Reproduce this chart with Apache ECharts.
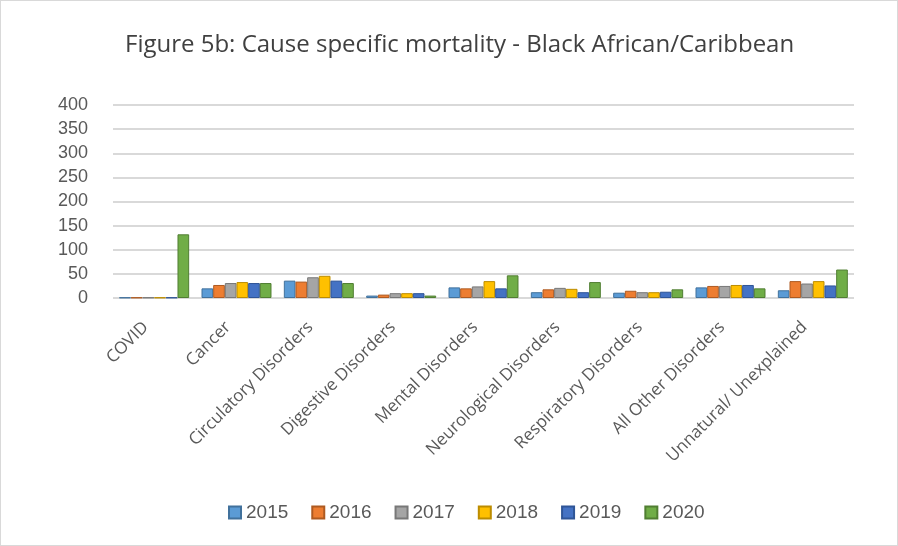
<!DOCTYPE html>
<html>
<head>
<meta charset="utf-8">
<script src="https://cdn.jsdelivr.net/npm/echarts@6/dist/echarts.min.js"></script>
<style>
  html, body { margin: 0; padding: 0; background: #fff; }
  #chart { width: 896px; height: 544px; border: 1px solid #d9d9d9; }
</style>
</head>
<body>
<div id="chart"></div>
<script>
const categories = ['COVID', 'Cancer', 'Circulatory Disorders', 'Digestive Disorders', 'Mental Disorders',
  'Neurological Disorders', 'Respiratory Disorders', 'All Other Disorders', 'Unnatural/ Unexplained'];
const years = ['2015', '2016', '2017', '2018', '2019', '2020'];
const v2015 = [1, 20, 36, 5, 22, 12, 11, 22, 16];
const v2016 = [1, 27, 34, 7, 20, 18, 15, 25, 35];
const v2017 = [1, 31, 43, 10, 24, 21, 12, 25, 30];
const v2018 = [1, 33, 46, 10, 35, 19, 12, 27, 35];
const v2019 = [1, 31, 36, 10, 20, 12, 13, 27, 26];
const v2020 = [132, 31, 31, 5, 47, 33, 18, 20, 59];
const yTicks = [0, 50, 100, 150, 200, 250, 300, 350, 400];

const colors = ['#5b9bd5', '#ed7d31', '#a5a5a5', '#ffc000', '#4472c4', '#70ad47'];
const edges = ['#41719c', '#ae5a21', '#787878', '#bc8c00', '#2f5597', '#507e32'];
const values = [v2015, v2016, v2017, v2018, v2019, v2020];

const chart = echarts.init(document.getElementById('chart'));
chart.setOption({
  animation: false,
  title: {
    text: 'Figure 5b: Cause specific mortality - Black African/Caribbean',
    left: 119,
    top: 27,
    textStyle: { fontFamily: 'Open Sans', fontSize: 24, fontWeight: 'normal', color: '#404040' }
  },
  legend: {
    bottom: 18,
    left: 222,
    itemWidth: 12,
    itemHeight: 12,
    itemGap: 23,
    icon: 'rect',
    textStyle: { fontFamily: 'Liberation Sans', fontSize: 19, color: '#595959' },
    data: years
  },
  grid: { left: 112, right: 43, top: 104, bottom: 247 },
  xAxis: {
    type: 'category',
    data: categories,
    axisLine: { show: false },
    axisTick: { show: false },
    axisLabel: {
      rotate: 45,
      interval: 0,
      margin: 18,
      padding: [0, 12, 0, 0],
      fontFamily: 'Open Sans',
      fontSize: 17,
      color: '#595959'
    }
  },
  yAxis: {
    type: 'value',
    min: yTicks[0],
    max: yTicks[yTicks.length - 1],
    interval: 50,
    axisLine: { show: false },
    axisTick: { show: false },
    axisLabel: { fontFamily: 'Liberation Sans', fontSize: 18, color: '#595959', margin: 25 },
    splitLine: { lineStyle: { color: '#d9d9d9', width: 2 } }
  },
  series: years.map((y, i) => ({
    name: y,
    type: 'bar',
    data: values[i],
    barGap: '0%',
    barCategoryGap: '15%',
    itemStyle: { color: colors[i], borderColor: edges[i], borderWidth: 1 }
  }))
});
</script>
</body>
</html>
